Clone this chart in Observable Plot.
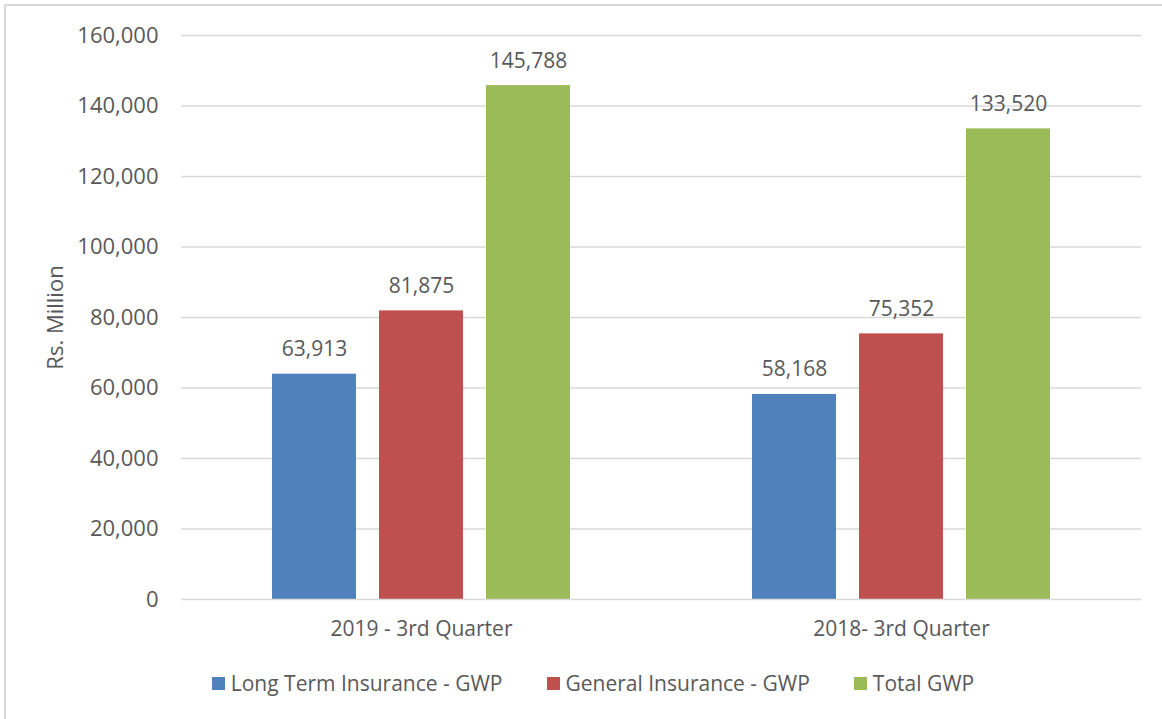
<!DOCTYPE html>
<html>
<head>
<meta charset="utf-8">
<script src="https://cdn.jsdelivr.net/npm/d3@7"></script>
<script src="https://cdn.jsdelivr.net/npm/@observablehq/plot@0.6"></script>
<style>
  html, body { margin: 0; padding: 0; background: #fff; }
  #wrap { position: relative; width: 1162px; height: 719px; overflow: hidden; font-family: "Open Sans", sans-serif; }
  #border { position: absolute; left: 4px; top: 4px; width: 1200px; height: 760px; border: 2px solid #d9d9d9; box-sizing: border-box; }
  #chart { position: absolute; left: 0; top: 0; }
  #legend { position: absolute; left: 0; top: 669px; width: 1162px; display: flex; justify-content: center; align-items: center; font-size: 21px; color: #595959; padding-left: 24px; box-sizing: border-box; }
  .item { display: flex; align-items: center; margin: 0 22px; }
  .sw { width: 13px; height: 13px; margin-right: 6px; display: inline-block; }
</style>
</head>
<body>
<div id="wrap">
  <div id="border"></div>
  <div id="chart"></div>
  <div id="legend"></div>
</div>
<script>
const periods = ["2019 - 3rd Quarter", "2018- 3rd Quarter"];
const series = ["Long Term Insurance - GWP", "General Insurance - GWP", "Total GWP"];
const colors = ["#4F81BD", "#C0504D", "#9BBB59"];
const longTerm = [63913, 58168];
const general = [81875, 75352];
const total = [145788, 133520];
const yTicks = [0, 20000, 40000, 60000, 80000, 100000, 120000, 140000, 160000];

const seriesValues = [longTerm, general, total];
const data = [];
periods.forEach((p, i) => {
  series.forEach((s, j) => data.push({period: p, series: s, value: seriesValues[j][i]}));
});
const fmt = d3.format(",");
const textColor = "#595959";
const fs = 21;

const plot = Plot.plot({
  width: 1162,
  height: 650,
  marginLeft: 181,
  marginRight: 21,
  marginTop: 35,
  marginBottom: 51,
  style: {fontFamily: "'Open Sans', sans-serif", fontSize: fs + "px", color: textColor, background: "transparent"},
  fx: {domain: periods, padding: 0, label: null},
  x: {domain: series, paddingInner: 0.215, paddingOuter: 0.85, axis: null},
  y: {domain: [0, 160000]},
  color: {domain: series, range: colors},
  marks: [
    Plot.ruleY(yTicks.filter(d => d > 0), {stroke: "#d9d9d9", strokeWidth: 1.5}),
    Plot.barY(data, {fx: "period", x: "series", y: "value", fill: "series"}),
    Plot.ruleY([0], {stroke: "#d9d9d9", strokeWidth: 1.5}),
    Plot.text(data, {fx: "period", x: "series", y: "value", text: d => fmt(d.value), lineAnchor: "bottom", dy: -18, fill: textColor, fontSize: fs}),
    Plot.axisY({ticks: yTicks, tickFormat: fmt, tickSize: 0, tickPadding: 23, label: "Rs. Million", labelAnchor: "center", labelArrow: "none", labelOffset: 134, fill: textColor, fontSize: 22}),
    Plot.axisFx({anchor: "bottom", tickSize: 0, tickPadding: 22, label: null, fill: textColor, fontSize: fs})
  ]
});
document.getElementById("chart").appendChild(plot);

const legend = document.getElementById("legend");
series.forEach((s, i) => {
  const it = document.createElement("div");
  it.className = "item";
  const sw = document.createElement("span");
  sw.className = "sw";
  sw.style.background = colors[i];
  const tx = document.createElement("span");
  tx.textContent = s;
  it.appendChild(sw);
  it.appendChild(tx);
  legend.appendChild(it);
});
</script>
</body>
</html>
